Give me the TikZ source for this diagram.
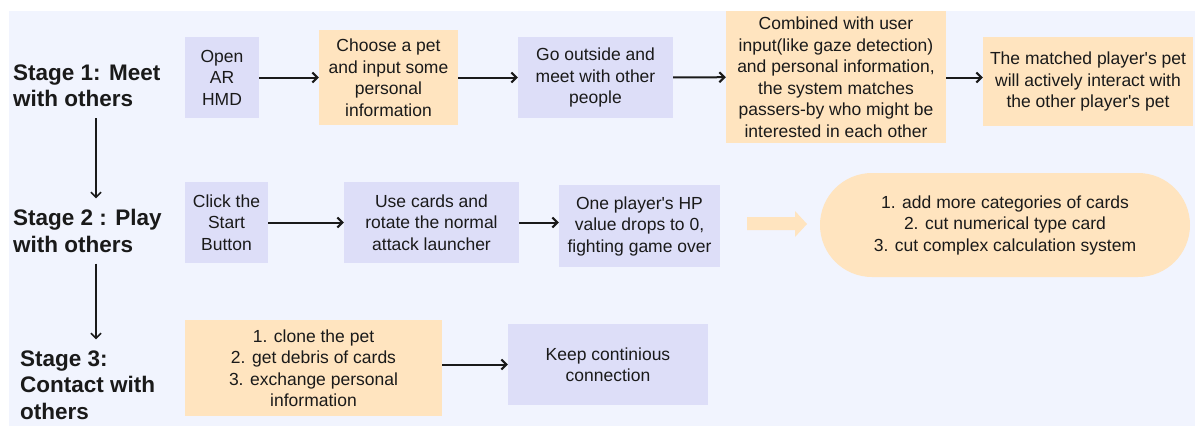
\documentclass[tikz,border=0pt]{standalone}
\usepackage{fontspec}
\setmainfont{Liberation Sans}
\usetikzlibrary{arrows.meta}

\definecolor{canvas}{RGB}{241,244,254}
\definecolor{lav}{RGB}{221,222,248}
\definecolor{peach}{RGB}{255,228,191}
\definecolor{ink}{RGB}{26,26,26}

\tikzset{
  card/.style={align=center, text=ink, inner sep=0pt, font=\fontsize{17.5}{21.5}\selectfont},
  lavbox/.style={card, fill=lav},
  peachbox/.style={card, fill=peach},
  stage/.style={align=left, anchor=west, text=ink, inner sep=0pt, font=\fontsize{22.5}{26.5}\selectfont\bfseries},
  flow/.style={-{Straight Barb[length=5pt,width=10pt]}, line width=2pt, draw=ink},
  stagelink/.style={flow, line width=1.6pt, shorten <=11pt, shorten >=11pt}
}
\newcommand{\apos}{\textquotesingle}

\begin{document}
\begin{tikzpicture}[x=1pt,y=-1pt]
	\useasboundingbox (0,0) rectangle (1195,426);
	\fill[canvas] (9,11) rectangle (1195,426);

	% stage titles on the left
	\node[stage] (stage1) at (13,86) {Stage 1: Meet\\with others};
	\node[stage] (stage2) at (13,231) {Stage 2 : Play\\with others};
	\node[stage] (stage3) at (20,385) {Stage 3:\\Contact with\\others};
	\coordinate (spine) at (96,0);
	\draw[stagelink] (stage1.south -| spine) -- (stage2.north -| spine);
	\draw[stagelink] (stage2.south -| spine) -- (stage3.north -| spine);

	% stage 1
	\node[lavbox, minimum width=74pt, minimum height=81pt] (hmd) at (222,77.5) {Open\\AR\\HMD};
	\node[peachbox, minimum width=139pt, minimum height=95pt] (pet) at (388.5,77.5) {Choose a pet\\and input some\\personal\\information};
	\node[lavbox, minimum width=155pt, minimum height=81pt] (outside) at (595.5,77.5) {Go outside and\\meet with other\\people};
	\node[peachbox, minimum width=220pt, minimum height=132pt] (match) at (836,77) {Combined with user\\input(like gaze detection)\\and personal information,\\the system matches\\passers-by who might be\\interested in each other};
	\node[peachbox, minimum width=210pt, minimum height=89pt] (interact) at (1088,81.5) {The matched player\apos s pet\\will actively interact with\\the other player\apos s pet};
	\draw[flow] (hmd) -- (pet);
	\draw[flow] (pet) -- (outside);
	\draw[flow] (outside) -- (match);
	\draw[flow] (match.east |- pet) -- (interact.west |- pet);

	% stage 2
	\node[lavbox, minimum width=83pt, minimum height=81pt] (start) at (226.5,222.5) {Click the\\Start\\Button};
	\node[lavbox, minimum width=175pt, minimum height=81pt] (cards) at (431.5,222.5) {Use cards and\\rotate the normal\\attack launcher};
	\node[lavbox, minimum width=161pt, minimum height=82pt] (hp) at (639.5,226) {One player\apos s HP\\value drops to 0,\\fighting game over};
	\node[peachbox, rounded corners=52pt, minimum width=370pt, minimum height=104pt] (ideas) at (1005,225) {1. add more categories of cards\\2. cut numerical type card\\3. cut complex calculation system};
	\draw[flow] (start) -- (cards);
	\draw[flow] (cards) -- (cards -| hp.west);
	\fill[peach] (747,217) -- (795,217) -- (795,211) -- (807,224) -- (795,237) -- (795,230) -- (747,230) -- cycle;

	% stage 3
	\node[peachbox, minimum width=257pt, minimum height=96pt] (gifts) at (313.5,368) {1. clone the pet\\2. get debris of cards\\3. exchange personal\\information};
	\node[lavbox, minimum width=200pt, minimum height=81pt] (keep) at (608,364.5) {Keep continious\\connection};
	\draw[flow] (gifts.east |- keep) -- (keep);
\end{tikzpicture}
\end{document}
